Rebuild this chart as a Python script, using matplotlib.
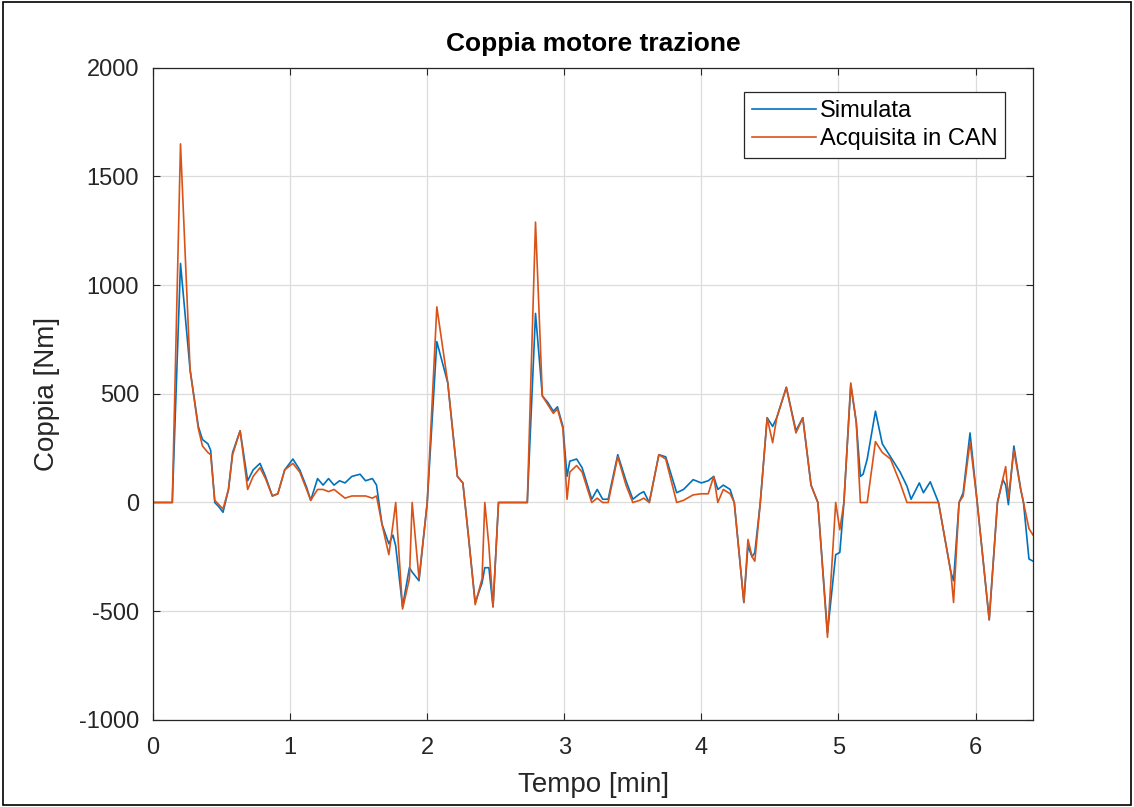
import matplotlib.pyplot as plt
from matplotlib.patches import Rectangle

# tempo [min] e coppia [Nm]
tempo = [0.00, 0.14, 0.20, 0.27, 0.33, 0.36, 0.40, 0.42, 0.45, 0.48, 0.51, 0.55, 0.58, 0.635,
         0.69, 0.73, 0.78, 0.82, 0.87, 0.91, 0.96, 1.02, 1.07, 1.12, 1.15, 1.20, 1.24, 1.28,
         1.32, 1.36, 1.40, 1.45, 1.51, 1.55, 1.60, 1.63, 1.67, 1.72, 1.75, 1.77, 1.82, 1.87,
         1.89, 1.94, 2.00, 2.07, 2.15, 2.22, 2.26, 2.30, 2.35, 2.40, 2.42, 2.45, 2.48, 2.52,
         2.73, 2.79, 2.84, 2.88, 2.92, 2.95, 2.99, 3.02, 3.04, 3.09, 3.13, 3.20, 3.24, 3.28,
         3.32, 3.39, 3.45, 3.50, 3.55, 3.58, 3.62, 3.69, 3.74, 3.82, 3.87, 3.94, 4.00, 4.05,
         4.09, 4.12, 4.16, 4.21, 4.24, 4.31, 4.34, 4.37, 4.39, 4.43, 4.48, 4.52, 4.55, 4.62,
         4.69, 4.74, 4.80, 4.85, 4.92, 4.98, 5.01, 5.04, 5.09, 5.13, 5.16, 5.18, 5.21, 5.27,
         5.32, 5.38, 5.45, 5.50, 5.53, 5.59, 5.62, 5.67, 5.73, 5.82, 5.84, 5.88, 5.91, 5.96,
         6.01, 6.10, 6.16, 6.20, 6.22, 6.24, 6.28, 6.33, 6.35, 6.39, 6.42]

simulata = [0, 0, 1100, 610, 350, 290, 270, 240, 0, -20, -45, 60, 230, 330,
            100, 150, 180, 120, 30, 40, 150, 200, 150, 70, 10, 110, 80, 110,
            80, 100, 90, 120, 130, 100, 110, 80, -100, -190, -150, -200, -480, -300,
            -320, -360, 0, 740, 550, 120, 90, -150, -460, -370, -300, -300, -480, 0,
            0, 870, 490, 460, 420, 440, 350, 120, 190, 200, 160, 15, 60, 15,
            15, 220, 100, 15, 40, 50, 0, 220, 210, 45, 60, 105, 90, 100,
            120, 60, 80, 60, 0, -460, -200, -250, -230, 0, 390, 350, 390, 530,
            330, 390, 80, 0, -600, -240, -230, 0, 540, 370, 120, 130, 200, 420,
            270, 210, 140, 75, 15, 90, 45, 95, 0, -320, -360, 0, 45, 320,
            15, -540, 0, 105, 80, -10, 260, 60, 0, -260, -270]

acquisita = [0, 0, 1650, 610, 340, 260, 230, 220, 10, -10, -30, 60, 220, 330,
             60, 120, 160, 110, 30, 40, 150, 180, 140, 60, 10, 60, 60, 50,
             60, 40, 20, 30, 30, 30, 20, 30, -100, -240, -100, 0, -490, -350,
             0, -350, 0, 900, 550, 120, 90, -150, -470, -350, 0, -200, -480, 0,
             0, 1290, 490, 450, 410, 430, 340, 15, 140, 170, 140, 0, 20, 0,
             0, 210, 80, 0, 10, 20, 0, 220, 200, 0, 10, 35, 40, 40,
             120, 0, 60, 40, 0, -460, -170, -250, -270, 0, 390, 275, 390, 530,
             320, 390, 80, 0, -620, 0, -125, 0, 550, 370, 0, 0, 0, 280,
             230, 200, 90, 0, 0, 0, 0, 0, 0, -320, -460, 0, 30, 280,
             15, -540, 0, 110, 165, 20, 240, 60, 0, -120, -150]

BLU = (0.0, 0.447, 0.741)
ARANCIO = (0.85, 0.325, 0.098)

plt.rcParams['font.family'] = ['Liberation Sans', 'DejaVu Sans']
plt.rcParams['axes.unicode_minus'] = False

fig = plt.figure(figsize=(11.34, 8.07), dpi=100)
fig.patches.append(Rectangle((0.003, 0.003), 0.994, 0.994, transform=fig.transFigure,
                             fill=False, edgecolor='black', linewidth=1.2))
ax = fig.add_axes([0.135, 0.108, 0.776, 0.808])

ax.plot(tempo, simulata, color=BLU, linewidth=1.2, label='Simulata')
ax.plot(tempo, acquisita, color=ARANCIO, linewidth=1.2, label='Acquisita in CAN')

ax.set_xlim(0, 6.42)
ax.set_ylim(-1000, 2000)
ax.set_xticks(range(0, 7))
ax.set_yticks(range(-1000, 2001, 500))
ax.grid(True, color='#dcdcdc', linewidth=0.9)
ax.tick_params(direction='in', top=True, right=True, labelsize=17, colors='#262626',
               length=5)
ax.tick_params(axis='x', pad=12)
ax.tick_params(axis='y', pad=10)
for s in ax.spines.values():
    s.set_color('#262626')
    s.set_linewidth(0.9)

ax.set_title('Coppia motore trazione', fontsize=19, fontweight='bold',
             y=1.037, va='center', pad=0)
ax.set_xlabel('Tempo [min]', fontsize=20, color='#262626')
ax.set_ylabel('Coppia [Nm]', fontsize=20, color='#262626')
ax.xaxis.set_label_coords(0.5, -0.1)
ax.yaxis.set_label_coords(-0.121, 0.5)
ax.xaxis.label.set_va('center')
ax.yaxis.label.set_va('center')

leg = ax.legend(loc='upper right', bbox_to_anchor=(0.9685, 0.963), borderaxespad=0,
                fontsize=17, fancybox=False, framealpha=1, edgecolor='#262626',
                handlelength=2.7, handletextpad=0.15, labelspacing=0.25,
                borderpad=0.35)
leg.get_frame().set_linewidth(0.9)

fig.savefig('out.png', dpi=100)
